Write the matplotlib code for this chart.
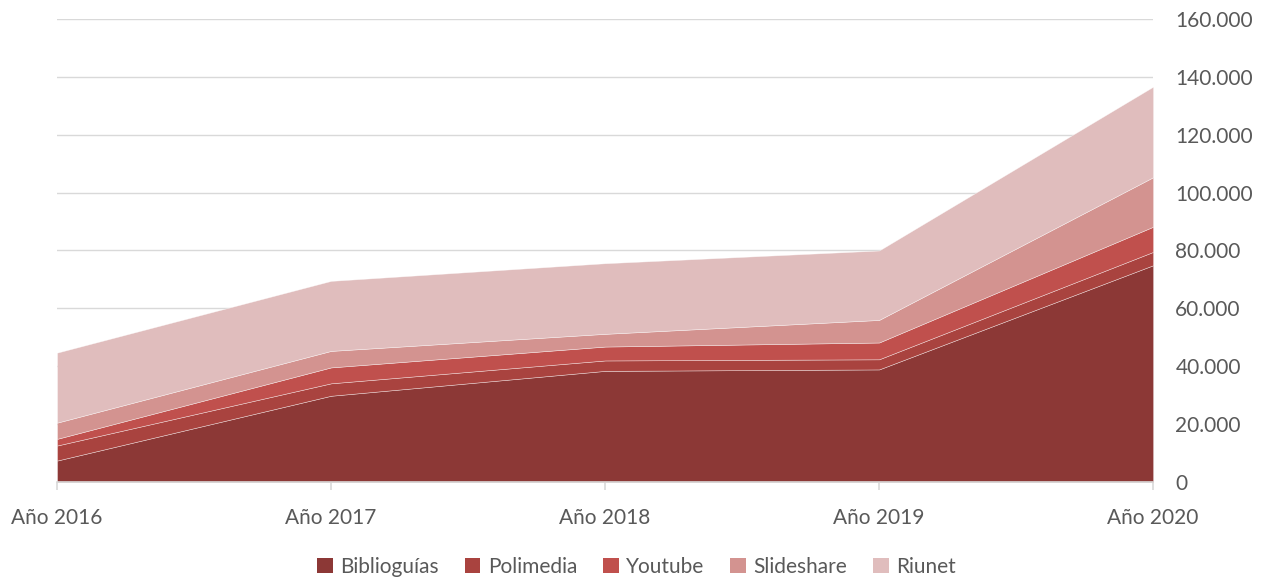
import matplotlib
matplotlib.use("Agg")
import matplotlib.pyplot as plt
from matplotlib.ticker import FuncFormatter, MultipleLocator
from matplotlib.patches import Patch

years = ["Año 2016", "Año 2017", "Año 2018", "Año 2019", "Año 2020"]
series_names = ["Biblioguías", "Polimedia", "Youtube", "Slideshare", "Riunet"]
biblioguias = [7400, 29800, 38400, 38900, 74900]
polimedia = [5200, 4300, 3600, 3500, 4600]
youtube = [2300, 5500, 4800, 5800, 8700]
slideshare = [5600, 5700, 4400, 7800, 17100]
riunet = [24200, 24200, 24400, 24000, 31300]
colors = ["#8C3836", "#A9433F", "#C0504D", "#D39390", "#E0BDBD"]

plt.rcParams['font.family'] = ['Lato', 'DejaVu Sans']
fig = plt.figure(figsize=(12.73, 5.81), dpi=100)
ax = fig.add_axes([0.0448, 0.1704, 0.9058 - 0.0448, 0.9673 - 0.1704])

x = list(range(len(years)))
ax.stackplot(x, biblioguias, polimedia, youtube, slideshare, riunet,
             colors=colors, edgecolor=(1, 1, 1, 0.6), linewidth=0.4, zorder=2)

ax.set_xlim(0, len(years) - 1)
ax.set_ylim(0, 160000)
ax.yaxis.set_major_locator(MultipleLocator(20000))
ax.yaxis.set_major_formatter(FuncFormatter(lambda v, p: f"{int(v):,}".replace(",", ".")))
ax.yaxis.tick_right()
ax.grid(axis="y", color="#D9D9D9", linewidth=1, zorder=0)
ax.set_axisbelow(True)
for s in ["top", "left", "right"]:
    ax.spines[s].set_visible(False)
ax.spines["bottom"].set_color("#D9D9D9")
ax.spines["bottom"].set_linewidth(1.2)
ax.spines["bottom"].set_zorder(3)
ax.tick_params(axis="y", length=0, pad=16, labelsize=15, labelcolor="#595959")
ax.set_xticks(x)
ax.set_xticklabels(years)
ax.tick_params(axis="x", length=6, color="#D9D9D9", width=1.2, pad=13, labelsize=15, labelcolor="#595959")

handles = [Patch(facecolor=c, edgecolor="none") for c in colors]
fig.legend(handles, series_names, loc="center", bbox_to_anchor=(0.5, 0.024), ncol=5,
           frameon=False, fontsize=15, labelcolor="#595959", handlelength=0.75,
           handleheight=0.75, handletextpad=0.35, columnspacing=1.25)

fig.savefig("out.png", dpi=100)
